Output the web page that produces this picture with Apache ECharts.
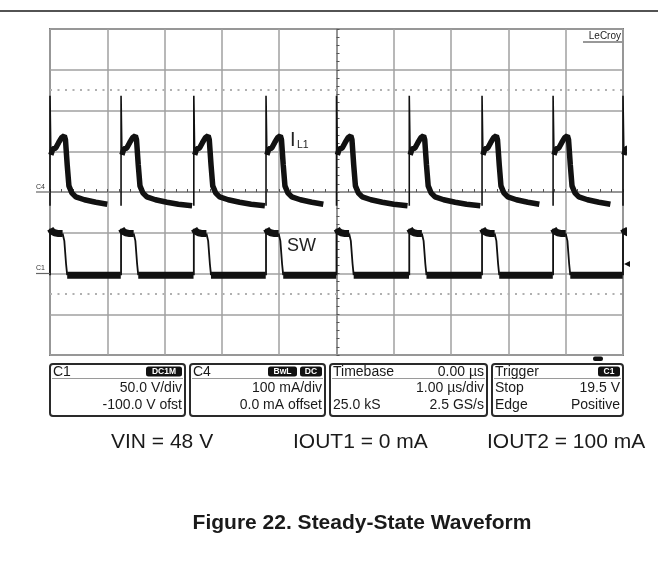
<!DOCTYPE html>
<html><head><meta charset="utf-8">
<script src="https://cdn.jsdelivr.net/npm/echarts@6/dist/echarts.min.js"></script>
<style>html,body{margin:0;padding:0;background:#fff}#c{width:658px;height:575px}</style>
</head><body><div id="c"></div>
<script>
// ---------------- data ----------------
// SW rising edges (µs); time base 1 µs/div, trigger at screen centre (0 µs)
const edgeTimes = [-5.00, -3.76, -2.49, -1.23, 0.00, 1.27, 2.54, 3.78, 5.00];

// Inductor current I_L1 (C4, 100 mA/div, 0 mA offset), one switching period,
// time measured after the rising edge (µs)
const ilSpikeTop = 236;                          // mA turn-on spike
const ilOnTime  = [0.015, 0.05, 0.10, 0.15, 0.20, 0.25, 0.27];
const ilOnMA    = [91, 106, 108, 121, 133, 138, 128];
const ilOffTime = [0.30, 0.33, 0.38, 0.45, 0.60, 0.80, 1.00, 1.24];
const ilOffMA   = [67, 15, -2, -12, -19, -25, -30, -34];

// Switch node SW (C1, 50 V/div, -100 V offset)
const swHighTime = [0.005, 0.03, 0.08, 0.15, 0.22];
const swHighV    = [55, 52, 50, 49, 49];
const swFallTime = [0.22, 0.25, 0.28, 0.30];
const swFallV    = [49, 40, 12, -2];
const swLowV     = -2;

// graticule: current axis (C4) and voltage axis (C1)
const ilAxis = {min: -400, max: 400, step: 100};
const swAxis = {min: -100, max: 300, step: 50};
const timeAxis = {min: -5, max: 5, step: 1};
const dottedLevelsMA = [250, -250];

// readout boxes
const boxC1 = {title: 'C1', badges: ['DC1M'], rows: [['', '50.0 V/div'], ['', '-100.0 V ofst']]};
const boxC4 = {title: 'C4', badges: ['BwL', 'DC'], rows: [['', '100 mA/div'], ['', '0.0 mA offset']]};
const boxTB = {title: 'Timebase', right: '0.00 µs', badges: [], rows: [['', '1.00 µs/div'], ['25.0 kS', '2.5 GS/s']]};
const boxTR = {title: 'Trigger', badges: ['C1'], rows: [['Stop', '19.5 V'], ['Edge', 'Positive']]};
const conditions = ['VIN = 48 V', 'IOUT1 = 0 mA', 'IOUT2 = 100 mA'];
const caption = 'Figure 22. Steady-State Waveform';

// ---------------- build series from the data ----------------
const lastOff = ilOffMA[ilOffMA.length - 1];
const ilThick = [], ilThin = [], swThick = [], swThin = [];
for (let i = 0; i < edgeTimes.length; i++) {
  const t0 = edgeTimes[i];
  const tNext = i + 1 < edgeTimes.length ? edgeTimes[i + 1] : t0 + 1.25;
  ilThin.push([t0, lastOff], [t0, ilSpikeTop], [t0 + ilOnTime[0], ilOnMA[0]], null);
  ilOnTime.forEach((t, k) => ilThick.push([t0 + t, ilOnMA[k]]));
  ilOffTime.forEach((t, k) => { if (t0 + t < tNext) ilThick.push([t0 + t, ilOffMA[k]]); });
  ilThick.push(null);
  swThin.push([t0, swLowV], [t0, swHighV[0]], null);
  swFallTime.forEach((t, k) => swThin.push([t0 + t, swFallV[k]]));
  swThin.push(null);
  swHighTime.forEach((t, k) => swThick.push([t0 + t, swHighV[k]]));
  swThick.push(null);
  swThick.push([t0 + swFallTime[swFallTime.length - 1], swLowV], [tNext - 0.005, swLowV], null);
}

const chart = echarts.init(document.getElementById('c'));
const gridCol = '#a0a0a0';
const FONT = '"Liberation Sans", Arial, sans-serif';

chart.setOption({
  animation: false,
  backgroundColor: '#fff',
  grid: {left: 50, right: 35, top: 29, bottom: 220, show: true, borderColor: '#7c7c7c', borderWidth: 2, backgroundColor: 'transparent'},
  xAxis: {
    type: 'value', min: timeAxis.min, max: timeAxis.max, interval: timeAxis.step,
    axisLabel: {show: false},
    axisLine: {show: true, onZero: true, lineStyle: {color: '#8a8a8a', width: 1.5}},
    axisTick: {show: true, inside: true, length: 3, lineStyle: {color: '#555'}},
    minorTick: {show: true, splitNumber: 5, length: 3, lineStyle: {color: '#555', width: 1}},
    splitLine: {show: true, lineStyle: {color: gridCol, width: 1.5}}
  },
  yAxis: [{
    type: 'value', min: ilAxis.min, max: ilAxis.max, interval: ilAxis.step,
    axisLabel: {show: false},
    axisLine: {show: true, onZero: true, lineStyle: {color: '#8a8a8a', width: 1.5}},
    axisTick: {show: true, inside: true, length: 3, lineStyle: {color: '#555'}},
    minorTick: {show: true, splitNumber: 5, length: 3, lineStyle: {color: '#555', width: 1}},
    splitLine: {show: true, lineStyle: {color: gridCol, width: 1.5}}
  }, {
    type: 'value', min: swAxis.min, max: swAxis.max, interval: swAxis.step, show: false,
    splitLine: {show: false}
  }],
  series: [
    {name: 'IL1', type: 'line', yAxisIndex: 0, data: ilThick, showSymbol: false, connectNulls: false,
     lineStyle: {color: '#111', width: 5.5}, z: 5,
     markLine: {silent: true, symbol: ['none', 'none'], label: {show: false},
       lineStyle: {type: [2, 5.5], color: '#b0b0b0', width: 2},
       data: dottedLevelsMA.map(v => ({yAxis: v}))}},
    {name: 'IL1 spike', type: 'line', yAxisIndex: 0, data: ilThin, showSymbol: false, connectNulls: false,
     lineStyle: {color: '#111', width: 1.6}, z: 5},
    {name: 'SW', type: 'line', yAxisIndex: 1, data: swThick, showSymbol: false, connectNulls: false,
     lineStyle: {color: '#111', width: 7}, z: 5},
    {name: 'SW edges', type: 'line', yAxisIndex: 1, data: swThin, showSymbol: false, connectNulls: false,
     lineStyle: {color: '#111', width: 1.8}, z: 5}
  ]
});

// ---------------- annotations ----------------
const y0c4 = chart.convertToPixel({yAxisIndex: 0}, 0);
const y0c1 = chart.convertToPixel({yAxisIndex: 1}, 0);
const G = [];
function txt(x, y, s, opt) {
  opt = opt || {};
  G.push({type: 'text', silent: true, z: opt.z || 30, style: {
    x: x, y: y, text: s, fill: opt.fill || '#1a1a1a',
    font: (opt.weight || 'normal') + ' ' + (opt.size || 14) + 'px ' + FONT,
    align: opt.align || 'left', textAlign: opt.align || 'left',
    verticalAlign: opt.va || 'middle', textVerticalAlign: opt.va || 'middle'
  }});
}
function line(x1, y1, x2, y2, col, w) {
  G.push({type: 'line', silent: true, z: 20, shape: {x1, y1, x2, y2}, style: {stroke: col, lineWidth: w}});
}
line(0, 11, 658, 11, '#1a1a1a', 1.5);
line(36, y0c4, 50, y0c4, '#666', 1.2);
txt(36, y0c4 - 5, 'C4', {size: 7, fill: '#333'});
line(36, y0c1, 50, y0c1, '#666', 1.2);
txt(36, y0c1 - 5, 'C1', {size: 7, fill: '#333'});
G.push({type: 'polygon', silent: true, z: 20, shape: {points: [[624, 264], [630, 261], [630, 267]]}, style: {fill: '#111'}});
G.push({type: 'rect', silent: true, z: 20, shape: {x: 593, y: 356.5, width: 10, height: 4.5, r: 2}, style: {fill: '#111'}});
txt(621, 36, 'LeCroy', {size: 10, align: 'right', fill: '#222'});
line(583, 42, 622, 42, '#333', 1);
txt(290, 140, 'I', {size: 20, fill: '#222'});
txt(297, 145, 'L1', {size: 10.5, fill: '#222'});
txt(287, 246, 'SW', {size: 18, fill: '#222'});

function box(b, x, w) {
  const top = 364, h = 52;
  G.push({type: 'rect', silent: true, z: 18, shape: {x: x, y: top, width: w, height: h, r: 3},
          style: {fill: '#fff', stroke: '#2a2a2a', lineWidth: 2}});
  line(x + 2, top + 14.5, x + w - 2, top + 14.5, '#9a9a9a', 1);
  txt(x + 3, 372, b.title, {size: 14});
  if (b.right) txt(x + w - 3, 372, b.right, {size: 14, align: 'right'});
  let bx = x + w - 3;
  for (let k = b.badges.length - 1; k >= 0; k--) {
    const s = b.badges[k];
    const bw = Math.max(18, s.length * 7 + 8);
    bx -= bw;
    G.push({type: 'rect', silent: true, z: 21, shape: {x: bx, y: 366.5, width: bw, height: 10, r: 2.5}, style: {fill: '#111'}});
    txt(bx + bw / 2, 371.8, s, {size: 8.5, weight: 'bold', fill: '#fff', align: 'center', z: 40});
    bx -= 3;
  }
  b.rows.forEach((r, k) => {
    const yy = 388.5 + k * 17;
    if (r[0]) txt(x + 3, yy, r[0], {size: 14});
    if (r[1]) txt(x + w - 3, yy, r[1], {size: 14, align: 'right'});
  });
}
box(boxC1, 50, 135);
box(boxC4, 190, 135);
box(boxTB, 330, 157);
box(boxTR, 492, 131);

txt(111, 442, conditions[0], {size: 21});
txt(293, 442, conditions[1], {size: 21});
txt(487, 442, conditions[2], {size: 21});
txt(362, 523, caption, {size: 21, weight: 'bold', align: 'center'});

chart.setOption({graphic: G});
</script></body></html>
